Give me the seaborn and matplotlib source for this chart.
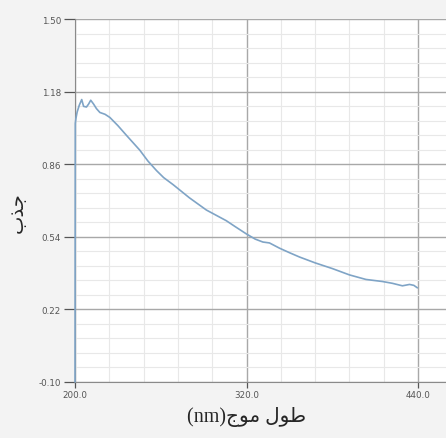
import numpy as np
import pandas as pd
import matplotlib
matplotlib.use("Agg")
import matplotlib.pyplot as plt
from matplotlib.ticker import FixedLocator, FormatStrFormatter
import seaborn as sns

# absorbance spectrum
wavelength = [200.0, 200.2, 200.6, 201.5, 203.0, 204.7, 206.0, 208.0, 209.5, 211.0,
              213.0, 215.0, 217.4, 221.0, 224.4, 230.0, 236.3, 245.3, 251.0, 257.0,
              262.0, 268.6, 280.0, 291.9, 305.8, 312.0, 319.8, 326.0, 331.4, 336.0,
              343.0, 350.0, 357.0, 368.0, 380.0, 392.0, 403.5, 415.0, 422.0, 429.0,
              434.0, 437.0, 439.5]
absorbance = [-0.10, 1.04, 1.06, 1.09, 1.12, 1.145, 1.115, 1.112, 1.125, 1.142,
              1.125, 1.105, 1.088, 1.08, 1.066, 1.03, 0.985, 0.922, 0.874, 0.832,
              0.801, 0.77, 0.712, 0.658, 0.611, 0.585, 0.553, 0.53, 0.517, 0.513,
              0.49, 0.47, 0.451, 0.425, 0.40, 0.372, 0.352, 0.343, 0.335, 0.324,
              0.33, 0.326, 0.315]

x_ticks = [200, 320, 440]
y_ticks = [-0.10, 0.22, 0.54, 0.86, 1.18, 1.50]

# Arabic labels written in visual order with presentation forms (no shaping in matplotlib)
x_label = "(nm)\uFE9D\uFEEE\uFEE3 \uFEDD\uFEEE\uFEC3"   # طول موج(nm)
y_label = "\uFE8F\uFEAC\uFE9F"                          # جذب

df = pd.DataFrame({"wavelength": wavelength, "absorbance": absorbance})

sns.set_style("white")
plt.rcParams["font.family"] = ["DejaVu Sans"]

fig = plt.figure(figsize=(4.46, 4.39), dpi=100, facecolor="#f3f3f3")
ax = fig.add_axes([75 / 446, 1 - 383 / 439, 371 / 446, 363 / 439])
ax.set_facecolor("white")

sns.lineplot(data=df, x="wavelength", y="absorbance", ax=ax,
             estimator=None, sort=False, color="#7fa4c6", linewidth=1.2, zorder=5)
for ln in ax.lines:
    ln.set_clip_on(False)

ax.set_xlim(200, 459.5)
ax.set_ylim(-0.10, 1.50)

ax.xaxis.set_major_locator(FixedLocator(x_ticks))
ax.yaxis.set_major_locator(FixedLocator(y_ticks))
ax.xaxis.set_minor_locator(FixedLocator(np.arange(200, 460, 24)))
ax.yaxis.set_minor_locator(FixedLocator(np.arange(-0.10, 1.51, 0.064)))
ax.xaxis.set_major_formatter(FormatStrFormatter("%.1f"))
ax.yaxis.set_major_formatter(FormatStrFormatter("%.2f"))

ax.grid(which="major", color="#a8a8a8", linewidth=1.0)
ax.grid(which="minor", color="#e8e8e8", linewidth=0.8)
ax.set_axisbelow(True)

ax.tick_params(axis="both", which="major", labelsize=6.3, labelcolor="#555555",
               color="#555555", width=0.9)
ax.tick_params(axis="y", which="major", length=8, pad=2, left=True)
ax.tick_params(axis="x", which="major", length=4, pad=1.5, bottom=True)
ax.tick_params(which="minor", length=0)

for side in ["top", "right"]:
    ax.spines[side].set_visible(False)
ax.spines["left"].set_color("#8a8a8a")
ax.spines["bottom"].set_color("#8a8a8a")

ax.set_xlabel(x_label, fontsize=14.5, family=["Liberation Serif", "DejaVu Sans"])
ax.xaxis.set_label_coords(172 / 371, -24 / 363)
ax.set_ylabel(y_label, fontsize=14, rotation=90, family=["DejaVu Sans"])
ax.yaxis.set_label_coords(-48 / 371, 0.47)

fig.savefig("out.png", dpi=100, facecolor=fig.get_facecolor())
